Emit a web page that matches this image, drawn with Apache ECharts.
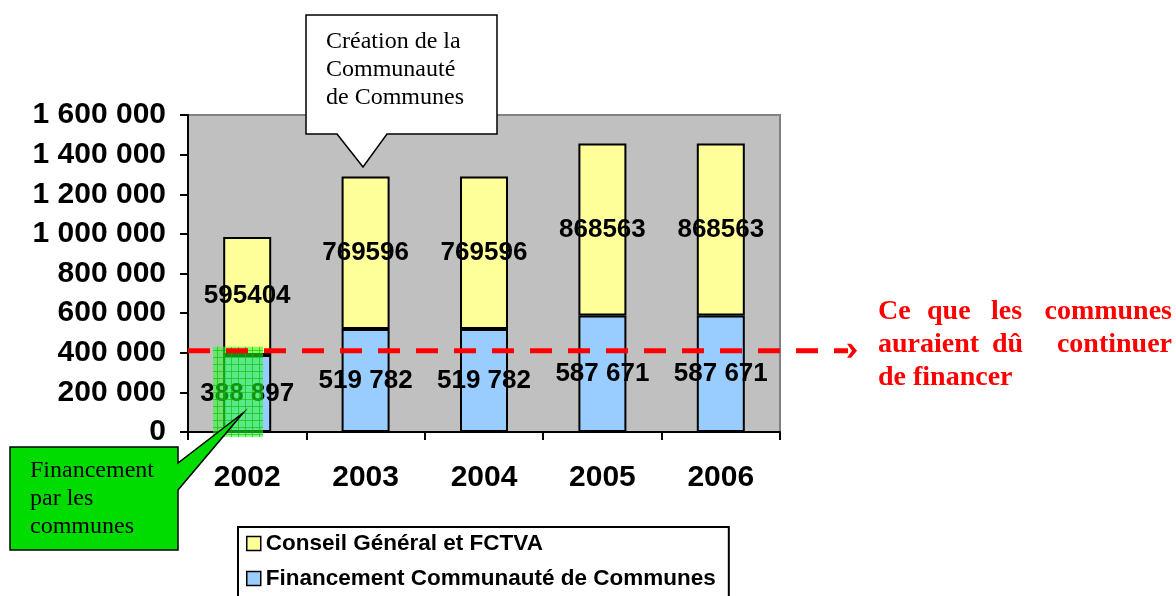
<!DOCTYPE html>
<html>
<head>
<meta charset="utf-8">
<script src="https://cdn.jsdelivr.net/npm/echarts@6/dist/echarts.min.js"></script>
<style>
  html, body { margin: 0; padding: 0; background: #fff; }
  #main { width: 1176px; height: 596px; }
</style>
</head>
<body>
<div id="main"></div>
<script>
  // données
  const years = ['2002', '2003', '2004', '2005', '2006'];
  const communaute = [388897, 519782, 519782, 587671, 587671];
  const conseil = [595404, 769596, 769596, 868563, 868563];
  const seuilCommunes = 410000; // ce que les communes auraient dû continuer de financer
  const yMin = 0, yMax = 1600000, yStep = 200000;

  const sans = "'Liberation Sans', Arial, sans-serif";
  const serif = "'Liberation Serif', 'Times New Roman', serif";
  const espace = v => String(v).replace(/\B(?=(\d{3})+(?!\d))/g, ' ');

  const labelStyle = {
    show: true,
    position: 'inside',
    color: '#000',
    fontFamily: sans,
    fontWeight: 'bold',
    fontSize: 26
  };

  const myChart = echarts.init(document.getElementById('main'));
  myChart.setOption({
    animation: false,
    grid: {
      left: 188, right: 396, top: 115, bottom: 164,
      show: true,
      backgroundColor: '#c0c0c0',
      borderColor: '#808080',
      borderWidth: 2
    },
    legend: {
      data: ['Conseil Général et FCTVA', 'Financement Communauté de Communes'],
      orient: 'vertical',
      left: 238,
      top: 527,
      height: 200,
      padding: [5, 13, 20, 8],
      itemGap: 12,
      backgroundColor: '#fff',
      borderColor: '#000',
      borderWidth: 2,
      borderRadius: 0,
      icon: 'rect',
      itemWidth: 14,
      itemHeight: 14,
      itemStyle: { borderColor: '#000', borderWidth: 1.5 },
      textStyle: { color: '#000', fontFamily: sans, fontWeight: 'bold', fontSize: 22.5 }
    },
    xAxis: {
      type: 'category',
      data: years,
      axisLine: { lineStyle: { color: '#000', width: 2 } },
      axisTick: { show: true, length: 8, lineStyle: { color: '#000', width: 2 } },
      axisLabel: { color: '#000', fontFamily: sans, fontWeight: 'bold', fontSize: 30, margin: 31 },
      splitLine: { show: false }
    },
    yAxis: {
      type: 'value',
      min: yMin,
      max: yMax,
      interval: yStep,
      axisLine: { show: true, lineStyle: { color: '#000', width: 2 } },
      axisTick: { show: true, length: 8, lineStyle: { color: '#000', width: 2 } },
      axisLabel: { color: '#000', fontFamily: sans, fontWeight: 'bold', fontSize: 30, margin: 22, formatter: espace },
      splitLine: { show: false }
    },
    series: [
      {
        name: 'Financement Communauté de Communes',
        type: 'bar',
        stack: 'total',
        barWidth: 48,
        data: communaute,
        itemStyle: { color: '#99ccff', borderColor: '#000', borderWidth: 2 },
        label: { ...labelStyle, formatter: p => espace(p.value) }
      },
      {
        name: 'Conseil Général et FCTVA',
        type: 'bar',
        stack: 'total',
        barWidth: 48,
        data: conseil,
        itemStyle: { color: '#ffff99', borderColor: '#000', borderWidth: 2 },
        label: { ...labelStyle, formatter: p => String(p.value) }
      }
    ]
  });

  // motif quadrillé vert
  const pat = document.createElement('canvas');
  pat.width = 7; pat.height = 7;
  const ctx = pat.getContext('2d');
  ctx.fillStyle = 'rgba(40,255,40,0.55)';
  ctx.fillRect(0, 0, 7, 7);
  ctx.fillStyle = 'rgba(0,190,0,0.6)';
  ctx.fillRect(0, 0, 7, 1);
  ctx.fillRect(0, 0, 1, 7);

  const ySeuil = myChart.convertToPixel({ yAxisIndex: 0 }, seuilCommunes);
  const red = '#ff0000';
  const redText = { fill: red, font: 'bold 28px ' + serif, textVerticalAlign: 'middle' };
  const mot = (text, x, y, align) => ({
    type: 'text', z: 110, x: x, y: y,
    style: { ...redText, text: text, textAlign: align || 'left' }
  });

  myChart.setOption({
    graphic: [
      // zone hachurée verte
      {
        type: 'rect', z: 100,
        shape: { x: 213, y: ySeuil - 4, width: 50, height: 437 - ySeuil + 4 },
        style: { fill: { image: pat, repeat: 'repeat' } }
      },
      // ligne pointillée rouge
      {
        type: 'line', z: 105,
        shape: { x1: 188, y1: ySeuil, x2: 848, y2: ySeuil },
        style: { stroke: red, lineWidth: 5, lineDash: [22, 16] }
      },
      {
        type: 'polygon', z: 105,
        shape: { points: [[847, ySeuil - 7], [851, ySeuil - 7], [857, ySeuil], [851, ySeuil + 7], [847, ySeuil + 7], [852, ySeuil]] },
        style: { fill: red }
      },
      // bulle blanche
      {
        type: 'polygon', z: 100,
        shape: { points: [[306, 15], [497, 15], [497, 134], [387, 134], [363, 167], [337, 134], [306, 134]] },
        style: { fill: '#fff', stroke: '#000', lineWidth: 1.5 }
      },
      {
        type: 'text', z: 101, x: 326, y: 28,
        style: {
          text: 'Création de la\nCommunauté\nde Communes',
          font: '24px ' + serif, fill: '#000', lineHeight: 28
        }
      },
      // bulle verte
      {
        type: 'polygon', z: 106,
        shape: { points: [[10, 447], [178, 447], [178, 463], [243, 413], [178, 490], [178, 550], [10, 550]] },
        style: { fill: '#00dc00', stroke: '#000', lineWidth: 1.5 }
      },
      {
        type: 'text', z: 107, x: 30, y: 457,
        style: {
          text: 'Financement\npar les\ncommunes',
          font: '24px ' + serif, fill: '#000', lineHeight: 28
        }
      },
      // texte rouge justifié
      mot('Ce', 878, 312), mot('que', 927, 312), mot('les', 991, 312), mot('communes', 1172, 312, 'right'),
      mot('auraient', 878, 345), mot('dû', 992, 345), mot('continuer', 1172, 345, 'right'),
      mot('de financer', 878, 378)
    ]
  });
</script>
</body>
</html>
